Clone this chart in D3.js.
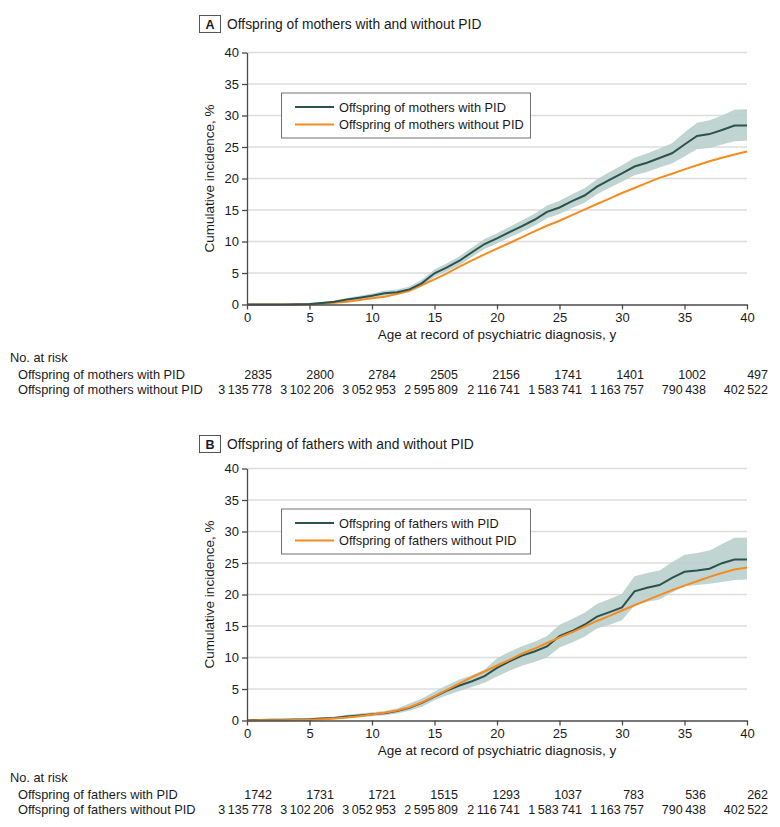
<!DOCTYPE html>
<html>
<head>
<meta charset="utf-8">
<script src="https://cdn.jsdelivr.net/npm/d3@7"></script>
<style>
  html, body { margin: 0; padding: 0; background: #fff; }
  svg { display: block; font-family: "Liberation Sans", Arial, sans-serif; }
</style>
</head>
<body>
<svg id="chart" width="780" height="827"></svg>
<script>
// ---------------- DATA ----------------
const ages = [0,1,2,3,4,5,6,7,8,9,10,11,12,13,14,15,16,17,18,19,20,21,22,23,24,25,26,27,28,29,30,31,32,33,34,35,36,37,38,39,40];

// Panel A – mothers
const motherWith = [0,0,0,0,0.02,0.08,0.25,0.45,0.8,1.08,1.4,1.77,1.95,2.4,3.4,4.95,5.9,6.95,8.3,9.6,10.5,11.5,12.45,13.45,14.7,15.4,16.4,17.3,18.7,19.8,20.8,21.9,22.5,23.25,24.0,25.4,26.75,27.05,27.7,28.4,28.4];
const motherWithLower = [0,0,0,0,0,0,0.1,0.25,0.55,0.78,1.05,1.37,1.53,1.95,2.85,4.35,5.25,6.25,7.55,8.8,9.68,10.65,11.55,12.5,13.7,14.35,15.3,16.15,17.5,18.55,19.5,20.5,21.05,21.75,22.4,23.5,24.65,24.85,25.4,25.9,26.0];
const motherWithUpper = [0.05,0.05,0.05,0.05,0.06,0.2,0.4,0.65,1.05,1.4,1.75,2.17,2.37,2.85,3.95,5.55,6.55,7.65,9.05,10.4,11.32,12.35,13.35,14.4,15.7,16.45,17.5,18.45,19.9,21.05,22.1,23.3,23.95,24.75,25.6,27.3,28.85,29.25,30.0,30.9,31.0];
const motherWithout = [0,0,0,0,0.01,0.05,0.15,0.29,0.45,0.71,0.98,1.24,1.67,2.2,3.1,4.0,4.95,6.0,7.0,7.96,8.86,9.76,10.7,11.6,12.5,13.3,14.2,15.05,15.95,16.8,17.7,18.5,19.3,20.1,20.75,21.45,22.1,22.75,23.3,23.8,24.3];

// Panel B – fathers
const fatherWith = [0.05,0.08,0.1,0.12,0.15,0.2,0.3,0.4,0.63,0.8,1.0,1.16,1.5,2.0,2.8,3.8,4.76,5.56,6.24,7.04,8.36,9.37,10.3,10.95,11.75,13.4,14.2,15.2,16.5,17.2,17.94,20.5,21.06,21.5,22.65,23.6,23.8,24.1,24.97,25.56,25.56];
const fatherWithLower = [0,0,0,0,0,0.02,0.1,0.18,0.35,0.5,0.68,0.82,1.1,1.55,2.2,3.2,4.0,4.7,5.3,6.0,7.0,7.9,8.7,9.3,10.0,11.6,12.4,13.3,14.6,15.2,15.9,18.25,18.8,19.2,20.3,21.3,21.5,21.7,22.0,22.3,22.4];
const fatherWithUpper = [0.2,0.22,0.25,0.28,0.32,0.38,0.5,0.62,0.9,1.1,1.32,1.5,1.9,2.7,3.5,4.6,5.6,6.5,7.2,8.1,9.9,10.9,11.8,12.5,13.4,15.2,16.1,17.1,18.5,19.3,20.1,22.9,23.4,23.8,25.1,26.3,26.6,27.0,28.0,29.0,29.0];
const fatherWithout = [0,0.02,0.03,0.05,0.07,0.1,0.2,0.32,0.48,0.69,0.95,1.22,1.6,2.1,2.9,3.86,4.87,5.9,6.9,7.78,8.73,9.63,10.6,11.4,12.3,13.2,14.0,14.9,15.8,16.6,17.46,18.3,19.1,19.9,20.7,21.4,22.1,22.8,23.4,23.97,24.3];

// Axis ticks
const xTicks = [0,5,10,15,20,25,30,35,40];
const yTicks = [0,5,10,15,20,25,30,35,40];

// Numbers at risk
const riskAges = [0,5,10,15,20,25,30,35,40];
const motherWithRisk = [2835,2800,2784,2505,2156,1741,1401,1002,497];
const fatherWithRisk = [1742,1731,1721,1515,1293,1037,783,536,262];
const parentWithoutRisk = [3135778,3102206,3052953,2595809,2116741,1583741,1163757,790438,402522];

// Text
const panels = [
  { letter: "A", title: "Offspring of mothers with and without PID",
    withLabel: "Offspring of mothers with PID", withoutLabel: "Offspring of mothers without PID",
    withV: motherWith, lo: motherWithLower, hi: motherWithUpper, withoutV: motherWithout,
    riskWith: motherWithRisk, riskWithout: parentWithoutRisk,
    top: 0, plotTop: 52.5, plotBottom: 304.5 },
  { letter: "B", title: "Offspring of fathers with and without PID",
    withLabel: "Offspring of fathers with PID", withoutLabel: "Offspring of fathers without PID",
    withV: fatherWith, lo: fatherWithLower, hi: fatherWithUpper, withoutV: fatherWithout,
    riskWith: fatherWithRisk, riskWithout: parentWithoutRisk,
    top: 420, plotTop: 468.5, plotBottom: 720.5 }
];
const yTitle = "Cumulative incidence, %";
const xTitle = "Age at record of psychiatric diagnosis, y";
const riskHeader = "No. at risk";

// ---------------- STYLE ----------------
const DARK = "#2c524e", ORANGE = "#f68b1f", BAND = "#b9d0cd", GRID = "#dcdcdc", AXIS = "#4a4a4a", TEXT = "#1a1a1a";

const svg = d3.select("#chart");
const x = d3.scaleLinear().domain([0, 40]).range([247, 747]);
const riskX = d3.scaleLinear().domain([0, 40]).range([272, 768]);
const fmt = v => v >= 10000 ? d3.format(",")(v).replace(/,/g, "\u2009") : String(v);

panels.forEach(p => {
  const g = svg.append("g");
  const y = d3.scaleLinear().domain([0, 40]).range([p.plotBottom, p.plotTop]);
  const T = p.top;

  // header
  g.append("rect").attr("x", 199.5).attr("y", T + 15.5).attr("width", 21).attr("height", 17)
    .attr("fill", "#fff").attr("stroke", "#555").attr("stroke-width", 1);
  g.append("text").attr("x", 210).attr("y", T + 28.5).attr("text-anchor", "middle")
    .attr("font-size", 12.5).attr("font-weight", "bold").attr("fill", TEXT).text(p.letter);
  g.append("text").attr("x", 227).attr("y", T + 29).attr("font-size", 13.8)
    .attr("fill", TEXT).text(p.title);

  // gridlines
  g.append("g").selectAll("line").data(yTicks.filter(d => d > 0)).join("line")
    .attr("x1", x(0)).attr("x2", x(40)).attr("y1", d => y(d)).attr("y2", d => y(d))
    .attr("stroke", GRID).attr("stroke-width", 1.3);

  // CI band
  const band = d3.area().x((d, i) => x(ages[i])).y0((d, i) => y(p.lo[i])).y1((d, i) => y(p.hi[i]));
  g.append("path").datum(ages).attr("d", band).attr("fill", BAND).attr("opacity", 0.9);

  const line = arr => d3.line().x((d, i) => x(ages[i])).y(d => y(d))(arr);
  if (p.letter === "A") {
    g.append("path").attr("d", line(p.withoutV)).attr("fill", "none").attr("stroke", ORANGE).attr("stroke-width", 2);
    g.append("path").attr("d", line(p.withV)).attr("fill", "none").attr("stroke", DARK).attr("stroke-width", 2);
  } else {
    g.append("path").attr("d", line(p.withV)).attr("fill", "none").attr("stroke", DARK).attr("stroke-width", 2);
    g.append("path").attr("d", line(p.withoutV)).attr("fill", "none").attr("stroke", ORANGE).attr("stroke-width", 2);
  }

  // axes
  const yAxis = g.append("g").attr("transform", `translate(${x(0)},0)`)
    .call(d3.axisLeft(y).tickValues(yTicks).tickSize(5).tickSizeOuter(0).tickPadding(3));
  const xAxis = g.append("g").attr("transform", `translate(0,${y(0)})`)
    .call(d3.axisBottom(x).tickValues(xTicks).tickSize(5).tickSizeOuter(0).tickPadding(3));
  [yAxis, xAxis].forEach(a => {
    a.select(".domain").attr("stroke", AXIS).attr("stroke-width", 1.3);
    a.selectAll(".tick line").attr("stroke", AXIS).attr("stroke-width", 1.3);
    a.selectAll(".tick text").attr("font-size", 13).attr("fill", TEXT)
      .attr("font-family", "'Liberation Sans', Arial, sans-serif");
  });

  // axis titles
  g.append("text").attr("transform", `translate(214,${(p.plotTop + p.plotBottom) / 2}) rotate(-90)`)
    .attr("text-anchor", "middle").attr("font-size", 13.5).attr("fill", TEXT).text(yTitle);
  g.append("text").attr("x", 497).attr("y", p.plotBottom + 34).attr("text-anchor", "middle")
    .attr("font-size", 13.5).attr("fill", TEXT).text(xTitle);

  // legend
  const LT = p.plotTop + 40.5;
  g.append("rect").attr("x", 281.5).attr("y", LT).attr("width", 249).attr("height", 45)
    .attr("fill", "#fff").attr("stroke", "#707070").attr("stroke-width", 1);
  [[p.withLabel, DARK], [p.withoutLabel, ORANGE]].forEach(([lab, col], i) => {
    const ly = LT + 14 + i * 17.5;
    g.append("line").attr("x1", 295).attr("x2", 334).attr("y1", ly).attr("y2", ly)
      .attr("stroke", col).attr("stroke-width", 2);
    g.append("text").attr("x", 339).attr("y", ly + 4.5).attr("font-size", 12.8).attr("fill", TEXT).text(lab);
  });

  // numbers at risk
  const R = T + 362;
  g.append("text").attr("x", 10).attr("y", R).attr("font-size", 12.8).attr("fill", TEXT).text(riskHeader);
  [[p.withLabel, p.riskWith], [p.withoutLabel, p.riskWithout]].forEach(([lab, vals], i) => {
    const ry = R + 16.5 + i * 15.5;
    g.append("text").attr("x", 18).attr("y", ry).attr("font-size", 12.8).attr("fill", TEXT).text(lab);
    g.append("g").selectAll("text").data(vals).join("text")
      .attr("x", (d, j) => riskX(riskAges[j])).attr("y", ry).attr("text-anchor", "end")
      .attr("font-size", 12.5).attr("fill", TEXT).text(d => fmt(d));
  });
});
</script>
</body>
</html>
